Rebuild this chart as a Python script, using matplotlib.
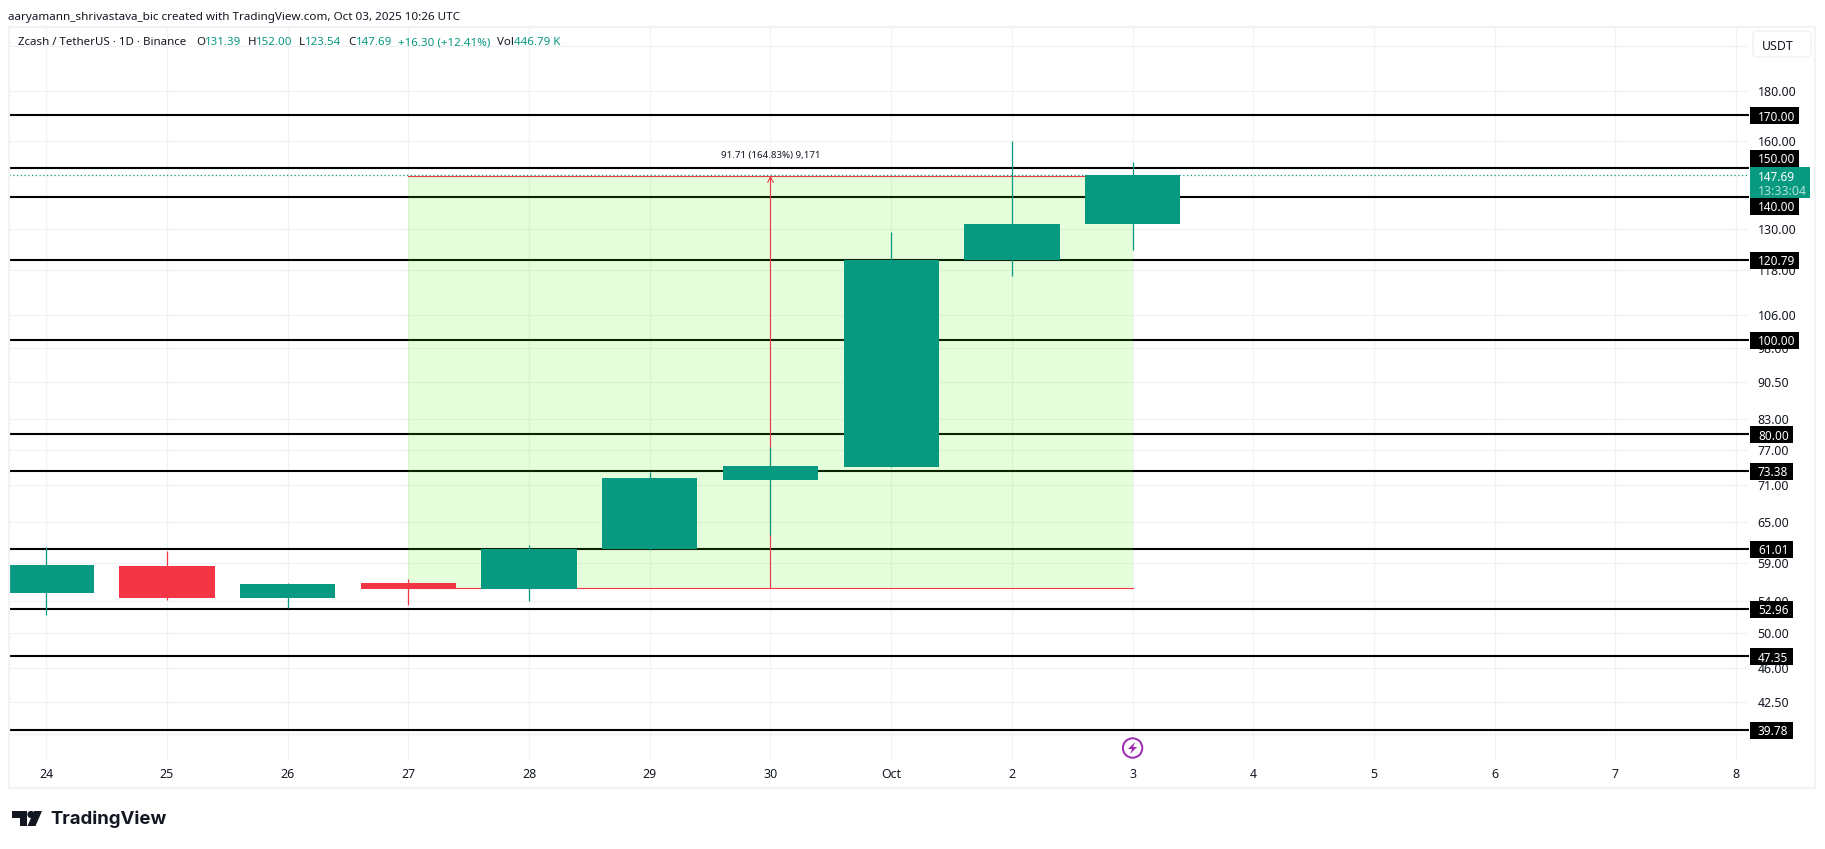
import matplotlib
matplotlib.use("Agg")
import matplotlib.pyplot as plt
from matplotlib.patches import Rectangle, Circle, Polygon, FancyBboxPatch

plt.rcParams['font.family'] = ['Noto Sans', 'DejaVu Sans']

W, H = 1825, 849
GREEN = "#089981"
RED = "#f23645"
DARK = "#131722"
GRID = "#f1f2f4"

# daily candles, Sep 24 - Oct 3
day_labels = ["24", "25", "26", "27", "28", "29", "30", "Oct", "2", "3", "4", "5", "6", "7", "8"]
opens = [55.01, 58.59, 54.32, 56.29, 55.50, 61.01, 71.80, 74.02, 120.70, 131.39]
highs = [61.24, 60.70, 56.33, 56.82, 61.58, 73.17, 77.63, 128.96, 159.90, 152.00]
lows = [52.19, 54.07, 53.05, 53.44, 53.95, 60.90, 63.05, 74.00, 116.30, 123.54]
closes = [58.73, 54.32, 56.15, 55.50, 61.01, 72.05, 74.20, 120.70, 131.39, 147.69]

axis_ticks = [200, 180, 160, 130, 118, 106, 98, 90.5, 83, 77, 71, 65, 59, 54, 50, 46, 42.5, 39.4]
axis_labels = ["", "180.00", "160.00", "130.00", "118.00", "106.00", "98.00", "90.50", "83.00",
               "77.00", "71.00", "65.00", "59.00", "54.00", "50.00", "46.00", "42.50", ""]

levels = [170.00, 150.00, 140.00, 120.79, 100.00, 80.00, 73.38, 61.01, 52.96, 47.35, 39.78]
# labels moved off their line so they clear the last price box
label_shift = {150.00: -10, 140.00: 9}

last_price = 147.69
range_low = 55.63
range_high = 147.34
range_start = 3
range_end = 9
range_mid = 6

fig = plt.figure(figsize=(W / 100, H / 100), dpi=100, facecolor="white")
ax = fig.add_axes([9 / W, (H - 760) / H, 1740 / W, 733 / H])
ax.set_yscale("log")
ax.set_xlim(-0.309, 14.107)
ax.set_ylim(37.05, 209.3)
for s in ax.spines.values():
    s.set_visible(False)
ax.set_axisbelow(True)

ax.yaxis.tick_right()
ax.set_yticks(axis_ticks)
ax.set_yticklabels(axis_labels)
ax.minorticks_off()
ax.set_xticks(range(len(day_labels)))
ax.set_xticklabels(day_labels)
ax.tick_params(axis="both", length=0, labelsize=8.9, labelcolor=DARK)
ax.tick_params(axis="y", pad=6.2)
ax.tick_params(axis="x", pad=6.0)
for lab in ax.get_yticklabels():
    lab.set_verticalalignment("center_baseline")
ax.get_xticklabels()[7].set_fontweight("bold")
ax.grid(True, color=GRID, lw=0.9)

# horizontal levels
for lv in levels:
    ax.axhline(lv, color="black", lw=1.5, zorder=2)

# date and price range
ax.fill_between([range_start, range_end], range_low, range_high, color=(0.3, 0.98, 0.0),
                alpha=0.14, lw=0, zorder=3)
ax.plot([range_start, range_end], [range_high, range_high], color=RED, lw=0.8, zorder=3.2)
ax.plot([range_start, range_end], [range_low, range_low], color=RED, lw=0.8, zorder=3.2)
ax.annotate("", xy=(range_mid, range_high), xytext=(range_mid, range_low),
            arrowprops=dict(arrowstyle="->", color=RED, lw=0.8, mutation_scale=10,
                            shrinkA=0, shrinkB=0), zorder=3.3)
ax.text(range_mid, 154.4, "91.71 (164.83%) 9,171", fontsize=7.0, color=DARK, ha="center", va="center")

# candles
xs = list(range(len(opens)))
colors = [GREEN if c >= o else RED for o, c in zip(opens, closes)]
ax.vlines(xs, lows, highs, colors=colors, lw=0.9, zorder=4)
ax.bar(xs, [abs(c - o) for o, c in zip(opens, closes)], bottom=[min(o, c) for o, c in zip(opens, closes)],
       width=0.79, color=colors, lw=0, zorder=4.5)

ax.axhline(last_price, color=GREEN, lw=0.9, ls=(0, (1, 2)), zorder=5)

# everything outside the plot area goes on a pixel overlay
ov = fig.add_axes([0, 0, 1, 1], facecolor="none")
ov.set_xlim(0, W)
ov.set_ylim(H, 0)
ov.axis("off")


def y_px(v):
    return H - ax.transData.transform((0, v))[1]


def x_px(v):
    return ax.transData.transform((v, 1))[0]


ov.add_patch(Rectangle((9, 27), 1806, 761, fc="none", ec="#f2f3f5", lw=1.6))

# price labels
for lv in levels:
    txt = "%.2f" % lv
    yc = y_px(lv) + label_shift.get(lv, 0.5)
    w = 49 if lv >= 100 else 43
    ov.add_patch(Rectangle((1750, yc - 8.5), w, 17, fc="black", ec="none", zorder=5))
    ov.text(1758, yc, txt, color="white", fontsize=8.5, fontweight="bold", va="center_baseline",
            ha="left", zorder=6)

ov.add_patch(Rectangle((1750, 167), 60, 31, fc=GREEN, ec="none", zorder=7))
ov.text(1758, 176, "147.69", color="white", fontsize=8.5, fontweight="bold", va="center_baseline", zorder=8)
ov.text(1758, 190, "13:33:04", color="#b5e0d9", fontsize=8.9, va="center_baseline", zorder=8)

# USDT button
ov.add_patch(FancyBboxPatch((1755, 33), 54, 22, boxstyle="round,pad=2,rounding_size=4",
                            fc="white", ec="#f0f1f3", lw=1, zorder=5))
ov.text(1762, 45, "USDT", color=DARK, fontsize=8.9, va="center_baseline", zorder=6)

# header texts
ov.text(8, 15.5, "aaryamann_shrivastava_bic created with TradingView.com, Oct 03, 2025 10:26 UTC",
        color=DARK, fontsize=8.4, va="center_baseline")
ov.text(18, 41, "Zcash / TetherUS · 1D · Binance", color=DARK, fontsize=8.3, va="center_baseline")
legend_bits = [(196, "O", DARK), (205, "131.39", GREEN), (248, "H", DARK), (256, "152.00", GREEN),
               (299, "L", DARK), (305, "123.54", GREEN), (348, "C", DARK), (356, "147.69", GREEN),
               (398, "+16.30 (+12.41%)", GREEN), (497, "Vol", DARK), (514, "446.79 K", GREEN)]
for px, s, c in legend_bits:
    ov.text(px, 41, s, color=c, fontsize=8.3, va="center_baseline")

# lightning marker on the last bar
cx, cy = x_px(9), 748
ov.add_patch(Circle((cx, cy), 9.7, fc="white", ec="#9c27b0", lw=1.4, zorder=5))
ov.add_patch(Polygon([(cx + 2.5, cy - 6), (cx - 4.5, cy + 1), (cx - 0.5, cy + 1), (cx - 2.5, cy + 6),
                      (cx + 4.5, cy - 1), (cx + 0.5, cy - 1)], fc="#9c27b0", ec="none", zorder=6))

# TradingView logo
ov.add_patch(Polygon([(12, 811), (27, 811), (27, 826), (20, 826), (20, 818), (12, 818)], fc=DARK, ec="none"))
ov.add_patch(Circle((31, 814.5), 3.6, fc=DARK, ec="none"))
ov.add_patch(Polygon([(27.5, 826), (35.5, 826), (42, 811), (34, 811)], fc=DARK, ec="none"))
ov.text(50, 819, "TradingView", family="Inter", fontweight="bold", fontsize=13.4, color=DARK, va="center")

fig.savefig("out.png", dpi=100)
